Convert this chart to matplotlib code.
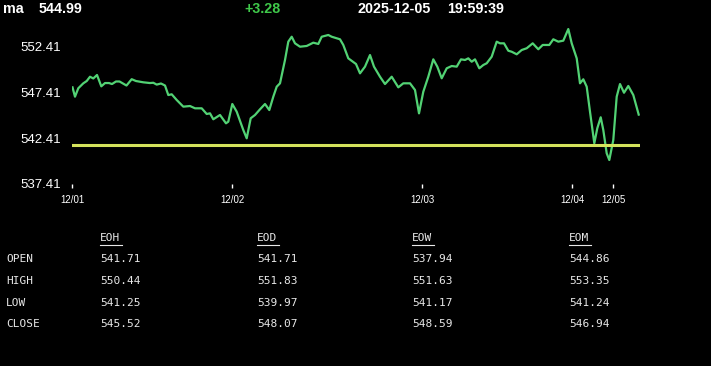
import matplotlib
matplotlib.use("Agg")
import matplotlib.pyplot as plt

# header
symbol = "ma"
last_price = "544.99"
change = "+3.28"
stamp_date = "2025-12-05"
stamp_time = "19:59:39"

# intraday series (bar offset, price)
bars = [0.5, 3, 6.3, 11.3, 14.7, 18, 21.3, 25, 29.3, 33, 37, 40, 44, 47.5, 50.7, 54.5,
        59.7, 64, 71.3, 78, 81.3, 84.7, 89, 93, 96.3, 99.7, 104.7, 111.3, 118, 123, 129.7,
        134.7, 138, 141.3, 148, 154, 156.3, 160.3, 164.7, 171.3, 174.7, 178.7, 183, 188,
        193, 197.3, 201.3, 204.7, 208, 213, 216.3, 219.7, 223, 228, 234.7, 241.3, 246.3,
        249.7, 256.3, 259.7, 268, 271.3, 276.3, 281.3, 284, 288, 293, 298, 302, 308, 313,
        319.7, 326.3, 331.3, 338, 343, 347, 351.3, 356.3, 361.3, 365.3, 369.7, 374.7, 379.7,
        384.7, 389, 393, 396.3, 399.7, 403, 407.3, 411.3, 414.7, 419.7, 424.7, 428, 432,
        436.3, 439.7, 444.7, 449.7, 454.7, 460.7, 466.3, 470.7, 477.3, 481.3, 486.3, 491.3,
        496.3, 499.7, 504.7, 508, 511.3, 514.7, 518, 522.3, 525.3, 528.7, 531.3, 534.7,
        537.3, 541.3, 544.7, 548, 552, 556.3, 561.3, 566.7]
prices = [547.97, 546.95, 547.87, 548.41, 548.66, 549.13, 548.94, 549.32, 548.08, 548.44,
          548.44, 548.33, 548.61, 548.61, 548.41, 548.17, 548.86, 548.66, 548.52, 548.44,
          548.47, 548.27, 548.39, 548.17, 547.13, 547.21, 546.59, 545.86, 545.93, 545.68,
          545.68, 545.06, 545.13, 544.48, 544.95, 544.04, 544.22, 546.15, 545.31, 543.31,
          542.40, 544.59, 544.95, 545.57, 546.15, 545.49, 546.95, 548.04, 548.41, 550.96,
          552.96, 553.50, 552.78, 552.41, 552.49, 552.85, 552.71, 553.50, 553.69, 553.50,
          553.22, 552.60, 551.14, 550.74, 550.52, 549.50, 550.23, 551.50, 550.23, 549.13,
          548.33, 549.13, 547.97, 548.41, 548.41, 547.68, 545.13, 547.49, 549.13, 551.03,
          550.23, 548.96, 550.05, 550.30, 550.23, 551.03, 550.96, 551.14, 550.77, 551.03,
          550.05, 550.41, 550.60, 551.32, 552.96, 552.78, 552.78, 551.97, 551.86, 551.58,
          552.05, 552.24, 552.78, 552.13, 552.60, 552.60, 553.22, 552.96, 553.07, 554.34,
          552.78, 551.14, 548.41, 548.85, 548.04, 545.31, 541.86, 543.50, 544.70, 543.31,
          540.76, 540.03, 542.22, 546.95, 548.33, 547.38, 548.12, 547.13, 544.99]
ref_price = 541.71

day_bars = [0, 160, 350, 500, 541]
day_labels = ["12/01", "12/02", "12/03", "12/04", "12/05"]
y_ticks = [537.41, 542.41, 547.41, 552.41]

# summary table
row_names = ["OPEN", "HIGH", "LOW", "CLOSE"]
col_names = ["EOH", "EOD", "EOW", "EOM"]
eoh = ["541.71", "550.44", "541.25", "545.52"]
eod = ["541.71", "551.83", "539.97", "548.07"]
eow = ["537.94", "551.63", "541.17", "548.59"]
eom = ["544.86", "553.35", "541.24", "546.94"]

W, H = 711, 366
fig = plt.figure(figsize=(W / 100, H / 100), dpi=100, facecolor="black")

# axes placed by pixel box: left 72, right 640, top 25, bottom 184
ax = fig.add_axes([72 / W, 1 - 184 / H, 568 / W, 159 / H], facecolor="black")
ax.plot(bars, prices, color="#52d274", lw=1.6, solid_joinstyle="round")
ax.axhline(ref_price, color="#d4e35c", lw=2.2)
ax.set_xlim(0, 568)
ax.set_ylim(537.41, 537.41 + 159 / 9.153)
for s in ax.spines.values():
    s.set_visible(False)

ax.set_yticks(y_ticks)
ax.set_yticklabels([f"{v:.2f}" for v in y_ticks], fontfamily="Liberation Sans",
                   fontsize=9.5, color="white")
ax.tick_params(axis="y", length=0, pad=8)
ax.set_xticks(day_bars)
ax.set_xticklabels(day_labels, fontfamily="Liberation Sans", fontsize=7, color="white")
ax.tick_params(axis="x", length=3, width=1, color="white", pad=5, direction="out")

# header line
hdr = dict(fontfamily="Liberation Sans", fontweight="bold", fontsize=10.3, va="center")
fig.text(3 / W, 1 - 9 / H, symbol, color="white", **hdr)
fig.text(39 / W, 1 - 9 / H, last_price, color="white", **hdr)
fig.text(244 / W, 1 - 9 / H, change, color="#3fc84a", **hdr)
fig.text(358 / W, 1 - 9 / H, stamp_date, color="white", **hdr)
fig.text(447 / W, 1 - 9 / H, stamp_time, color="white", **hdr)

# summary table
tbl = dict(fontfamily="DejaVu Sans Mono", fontsize=8, color="#e8e8e8", va="center")
col_x = [100, 257, 412, 569]
row_y = [259, 281, 303, 324]
for cx, name in zip(col_x, col_names):
    fig.text(cx / W, 1 - 238 / H, name, **tbl)
    fig.add_artist(plt.Line2D([cx / W, (cx + 22) / W], [1 - 244.5 / H, 1 - 244.5 / H],
                              color="#e8e8e8", lw=0.8))
for ry, name in zip(row_y, row_names):
    fig.text(6 / W, 1 - ry / H, name, **tbl)
for cx, col in zip(col_x, [eoh, eod, eow, eom]):
    for ry, val in zip(row_y, col):
        fig.text(cx / W, 1 - ry / H, val, **tbl)

fig.savefig("out.png", dpi=100, facecolor="black")
